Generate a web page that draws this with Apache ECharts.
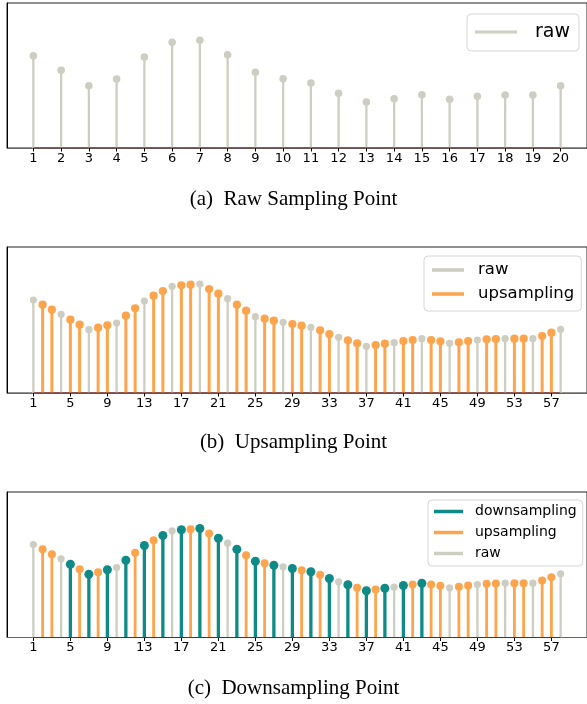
<!DOCTYPE html>
<html>
<head>
<meta charset="utf-8">
<script src="https://cdn.jsdelivr.net/npm/echarts@6/dist/echarts.min.js"></script>
<style>html,body{margin:0;padding:0;background:#fff}#c{width:587px;height:704px}</style>
</head>
<body>
<div id="c"></div>
<script>
// ---- data ----
const rawValuesA = [92.3,77.7,62.3,69,91,105.7,107.7,93.3,75.7,69.3,65,54.7,46,49.3,53.3,48.7,51.7,53,53,62.3];
const signal58 = [93,88.3,83.3,78.7,73.3,68.3,63.3,65.3,67.7,70,77.3,84.7,92,97.3,102,106.7,107.7,108.3,109,104,
  99.3,94.3,88.3,82.3,76.3,74.3,72.3,70.7,69,67.3,65.7,62.7,59,55.7,52.7,49.7,46.7,48,49.3,50.3,
  52,53,54.3,53,51.7,49.7,50.7,52,53,53.7,54,54.3,54.3,54.3,54.3,57,60.3,63.7];
const rawPositions = [1,4,7,10,13,16,19,22,25,28,31,34,37,40,43,46,49,52,55,58];
const downPositions = [5,7,9,11,13,15,17,19,21,23,25,27,29,31,33,35,37,39,41,43];
const xTicksA = [1,2,3,4,5,6,7,8,9,10,11,12,13,14,15,16,17,18,19,20];
const xTicksB = [1,5,9,13,17,21,25,29,33,37,41,45,49,53,57];
const captions = ['(a)  Raw Sampling Point', '(b)  Upsampling Point', '(c)  Downsampling Point'];

const C_RAW = '#cdcdc1', C_UP = '#fda44d', C_DOWN = '#0e8a87', C_BASE = '#7a1f1f';

const allPos = signal58.map((v, i) => i + 1);
const pick = (list) => list.map(p => [p, signal58[p - 1]]);
const upPosB = allPos.filter(p => !rawPositions.includes(p));
const rawPosC = rawPositions.filter(p => !downPositions.includes(p));
const upPosC = upPosB.filter(p => !downPositions.includes(p));

function stem(color, lw, r) {
  return function (params, api) {
    const x = api.value(0), y = api.value(1);
    const p0 = api.coord([x, 0]), p1 = api.coord([x, y]);
    return { type: 'group', children: [
      { type: 'line', shape: { x1: p0[0], y1: p0[1], x2: p1[0], y2: p1[1] }, style: { stroke: color, lineWidth: lw } },
      { type: 'circle', shape: { cx: p1[0], cy: p1[1], r: r }, style: { fill: color } }
    ]};
  };
}
function stemSeries(name, data, idx, color, lw, r) {
  return { type: 'custom', name, xAxisIndex: idx, yAxisIndex: idx, data, renderItem: stem(color, lw, r),
    itemStyle: { color }, clip: false, z: 2 };
}
function baseline(idx, x0, x1) {
  return { type: 'line', xAxisIndex: idx, yAxisIndex: idx, data: [[x0, 0], [x1, 0]], symbol: 'none',
    lineStyle: { color: C_BASE, width: 1.2 }, silent: true, z: 3, legendHoverLink: false };
}

const grids = [
  { left: 7, top: 3, width: 584, height: 145 },
  { left: 7, top: 247, width: 584, height: 146 },
  { left: 7, top: 492, width: 584, height: 145.5 }
];
const xRanges = [[0.05, 20.95], [-1.85, 60.85], [-1.85, 60.85]];
const yMax = [145, 146, 145.5];
const tickSets = [xTicksA, xTicksB, xTicksB];

const option = {
  animation: false,
  grid: grids.map(g => Object.assign({ show: true, borderColor: '#222', borderWidth: 1, backgroundColor: 'transparent' }, g)),
  xAxis: [0, 1, 2].map(i => ({
    type: 'value', gridIndex: i, min: xRanges[i][0], max: xRanges[i][1],
    splitLine: { show: false },
    axisLine: { show: true, onZero: false, lineStyle: { color: '#666', width: 1 } },
    axisTick: { show: true, length: 3.5, lineStyle: { color: '#000' }, customValues: tickSets[i] },
    axisLabel: { show: true, customValues: tickSets[i], margin: 4, color: '#000', fontFamily: 'DejaVu Sans', fontSize: 13 }
  })),
  yAxis: [0, 1, 2].map(i => ({
    type: 'value', gridIndex: i, min: 0, max: yMax[i],
    splitLine: { show: false }, axisLabel: { show: false }, axisTick: { show: false },
    axisLine: { show: true, onZero: false, lineStyle: { color: '#000' } }
  })),
  legend: [
    { data: ['raw'], orient: 'vertical', left: 467, top: 14, icon: 'rect', itemWidth: 42, itemHeight: 3,
      padding: [7, 9, 8, 8], backgroundColor: '#fff', borderColor: '#d6d6d6', borderWidth: 1, borderRadius: 4,
      textStyle: { fontFamily: 'DejaVu Sans', fontSize: 19, lineHeight: 22, color: '#000', padding: [0, 0, 0, 13] } },
    { data: ['raw', 'upsampling'], orient: 'vertical', left: 424, top: 256, icon: 'rect', itemWidth: 32, itemHeight: 3.5,
      itemGap: 4, padding: [4, 7, 7, 8], backgroundColor: '#fff', borderColor: '#d6d6d6', borderWidth: 1, borderRadius: 4,
      textStyle: { fontFamily: 'DejaVu Sans', fontSize: 16.5, lineHeight: 20, color: '#000', padding: [0, 0, 0, 9] } },
    { data: ['downsampling', 'upsampling', 'raw'], orient: 'vertical', left: 428, top: 500, icon: 'rect', itemWidth: 29, itemHeight: 3.5,
      itemGap: 4, padding: [3, 6, 4, 6], backgroundColor: '#fff', borderColor: '#d6d6d6', borderWidth: 1, borderRadius: 4,
      textStyle: { fontFamily: 'DejaVu Sans', fontSize: 14, lineHeight: 17, color: '#000', padding: [0, 0, 0, 7] } }
  ],
  graphic: captions.map((t, i) => ({
    type: 'text', left: 'center', top: [189, 432, 678][i],
    style: { text: t, fontFamily: 'Liberation Serif', fontSize: 21, fill: '#000' }
  })),
  series: [
    stemSeries('raw', rawValuesA.map((v, i) => [xTicksA[i], v]), 0, C_RAW, 2.3, 3.8),
    baseline(0, 1, 20),
    stemSeries('raw', pick(rawPositions), 1, C_RAW, 2.3, 3.6),
    stemSeries('upsampling', pick(upPosB), 1, C_UP, 3, 4.1),
    baseline(1, 1, 58),
    stemSeries('raw', pick(rawPosC), 2, C_RAW, 2.3, 3.6),
    stemSeries('upsampling', pick(upPosC), 2, C_UP, 2.8, 4.0),
    stemSeries('downsampling', pick(downPositions), 2, C_DOWN, 3.3, 4.5),
    baseline(2, 1, 58)
  ]
};
const chart = echarts.init(document.getElementById('c'), null, { renderer: 'canvas' });
chart.setOption(option);
</script>
</body>
</html>
